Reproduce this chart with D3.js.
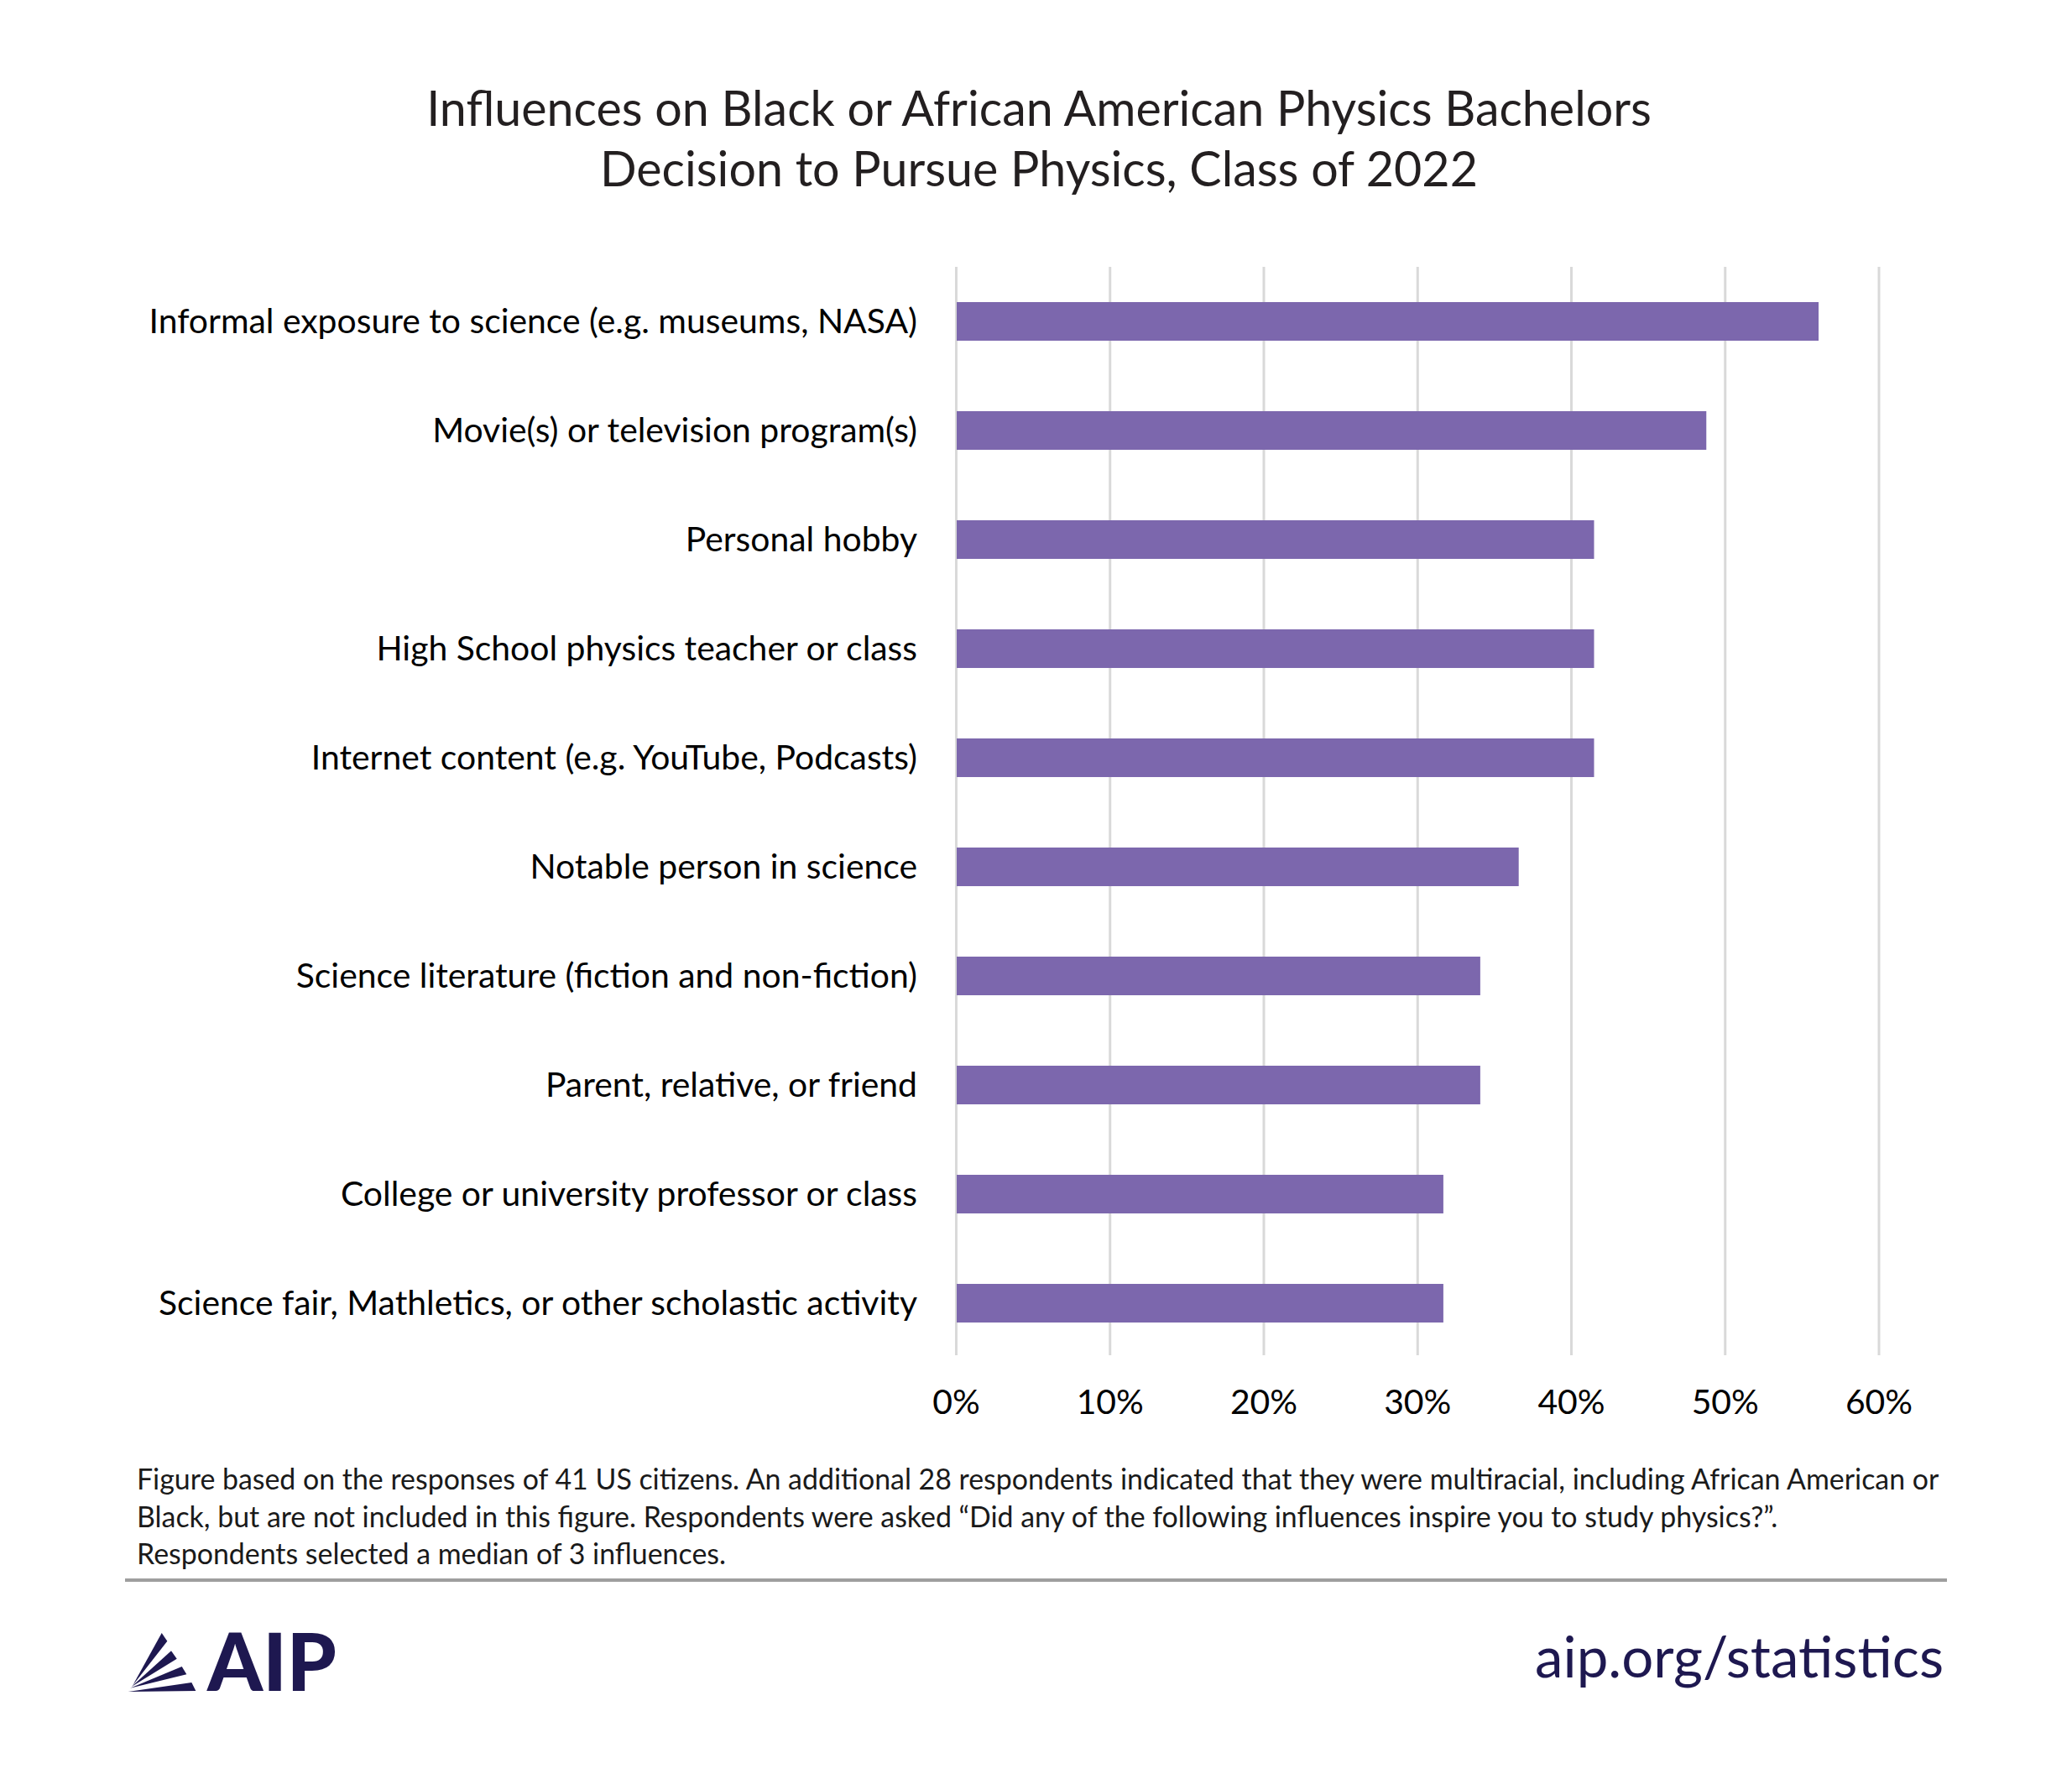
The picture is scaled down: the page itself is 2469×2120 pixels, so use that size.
<!DOCTYPE html>
<html>
<head>
<meta charset="utf-8">
<script src="https://cdn.jsdelivr.net/npm/d3@7"></script>
<style>
  body { margin: 0; background: #fff; }
  svg { display: block; }
</style>
</head>
<body>
<div id="chart"></div>
<script>
// Chart values (share of 41 respondents, %)
const categories = [
    "Informal exposure to science (e.g. museums, NASA)",
    "Movie(s) or television program(s)",
    "Personal hobby",
    "High School physics teacher or class",
    "Internet content (e.g. YouTube, Podcasts)",
    "Notable person in science",
    "Science literature (fiction and non-fiction)",
    "Parent, relative, or friend",
    "College or university professor or class",
    "Science fair, Mathletics, or other scholastic activity"
];
const values = [56.1, 48.8, 41.5, 41.5, 41.5, 36.6, 34.1, 34.1, 31.7, 31.7];
const tickValues = [0, 10, 20, 30, 40, 50, 60];

const titleLines = [
    "Influences on Black or African American Physics Bachelors",
    "Decision to Pursue Physics, Class of 2022"
];
const noteLines = [
    "Figure based on the responses of 41 US citizens. An additional 28 respondents indicated that they were multiracial, including African American or",
    "Black, but are not included in this figure. Respondents were asked \u201cDid any of the following influences inspire you to study physics?\u201d.",
    "Respondents selected a median of 3 influences."
];

const width = 2469, height = 2120;
const font = "Lato, 'Open Sans', sans-serif";

const svg = d3.select("#chart")
    .append("svg")
        .attr("width", width)
        .attr("height", height);

svg.append("rect")
    .attr("width", width)
    .attr("height", height)
    .attr("fill", "#fff");

// scale a text selection's font so its first node is `target` px wide
function fitWidth(sel, target) {
    const w = sel.node().getComputedTextLength();
    const size = parseFloat(sel.attr("font-size"));
    const newSize = size * target / w;
    sel.attr("font-size", newSize);
    return newSize;
}

const x = d3.scaleLinear()
    .domain([0, 60])
    .range([1139, 2238.5]);

const y = d3.scaleBand()
    .domain(categories)
    .range([318, 1618])
    .paddingInner(0.646)
    .paddingOuter(0.323);

// Title
const title = svg.append("g")
    .attr("font-family", font)
    .attr("fill", "#231f20")
    .attr("text-anchor", "middle");

titleLines.forEach((line, i) => {
    const t = title.append("text")
        .attr("x", 1238)
        .attr("y", 150 + i * 72)
        .attr("font-size", 60)
        .text(line);
    if (i === 0) fitWidth(t, 1460);
});
title.selectAll("text").attr("font-size", title.select("text").attr("font-size"));

// Gridlines
const grid = svg.append("g")
    .attr("transform", "translate(0,318)")
    .call(d3.axisTop(x).tickValues(tickValues).tickSize(-(1615 - 318)).tickFormat(""));
grid.select(".domain").remove();
grid.selectAll("line")
    .attr("stroke", "#d9d9d9")
    .attr("stroke-width", 3);

// Bars
svg.append("g")
    .selectAll("rect")
    .data(values)
    .join("rect")
        .attr("x", x(0) + 1)
        .attr("y", (d, i) => y(categories[i]))
        .attr("width", d => x(d) - x(0) - 1)
        .attr("height", y.bandwidth())
        .attr("fill", "#7c67ad");

// Category labels
const yAxis = svg.append("g")
    .attr("transform", "translate(1093,0)")
    .call(d3.axisLeft(y).tickSize(0).tickPadding(0));
yAxis.select(".domain").remove();
yAxis.selectAll("text")
    .attr("font-family", font)
    .attr("font-size", 40)
    .attr("fill", "#000")
    .attr("dy", "0.35em");

const longest = yAxis.selectAll("text").filter(d => d === categories[0]);
const labelSize = fitWidth(longest, 916);
yAxis.selectAll("text").attr("font-size", labelSize);
yAxis.attr("font-size", null).attr("font-family", null);

// Percent tick labels
const xAxis = svg.append("g")
    .attr("transform", "translate(0,1685)")
    .call(d3.axisBottom(x).tickValues(tickValues).tickSize(0).tickFormat(d => d + "%"));
xAxis.select(".domain").remove();
xAxis.selectAll("text")
    .attr("y", 0)
    .attr("dy", null)
    .attr("font-family", font)
    .attr("font-size", labelSize)
    .attr("fill", "#000");
xAxis.attr("font-size", null).attr("font-family", null);

// Footnote
const note = svg.append("g")
    .attr("font-family", font)
    .attr("fill", "#1a1a1a");
noteLines.forEach((line, i) => {
    note.append("text")
        .attr("x", 163)
        .attr("y", 1775 + i * 44.5)
        .attr("font-size", 34)
        .text(line);
});
const noteSize = fitWidth(note.select("text"), 2148);
note.selectAll("text").attr("font-size", noteSize);

// Rule above the footer
svg.append("line")
    .attr("x1", 149)
    .attr("x2", 2320)
    .attr("y1", 1883)
    .attr("y2", 1883)
    .attr("stroke", "#9e9e9e")
    .attr("stroke-width", 4);

// AIP logo: rays plus wordmark
const navy = "#1e1850";
const rays = [
    [[192.7, 1946], [199.3, 1955.7], [158.3, 2008.3]],
    [[204, 1967.3], [210.7, 1976.7], [156.7, 2010]],
    [[216.7, 1986], [222.3, 1995.3], [155, 2011.7]],
    [[228.3, 2005], [233.3, 2015], [152.7, 2016]]
];
svg.append("g")
    .selectAll("path")
    .data(rays)
    .join("path")
        .attr("d", d => "M" + d.join("L") + "Z")
        .attr("fill", navy);

const aip = svg.append("text")
    .attr("x", 247)
    .attr("y", 2015)
    .attr("font-family", "Lato, sans-serif")
    .attr("font-weight", 900)
    .attr("font-size", 97)
    .attr("fill", navy)
    .text("AIP");
fitWidth(aip, 154);

// Site address
const url = svg.append("text")
    .attr("x", 2316)
    .attr("y", 1999)
    .attr("text-anchor", "end")
    .attr("font-family", font)
    .attr("font-size", 76)
    .attr("fill", navy)
    .text("aip.org/statistics");
fitWidth(url, 487);
</script>
</body>
</html>
